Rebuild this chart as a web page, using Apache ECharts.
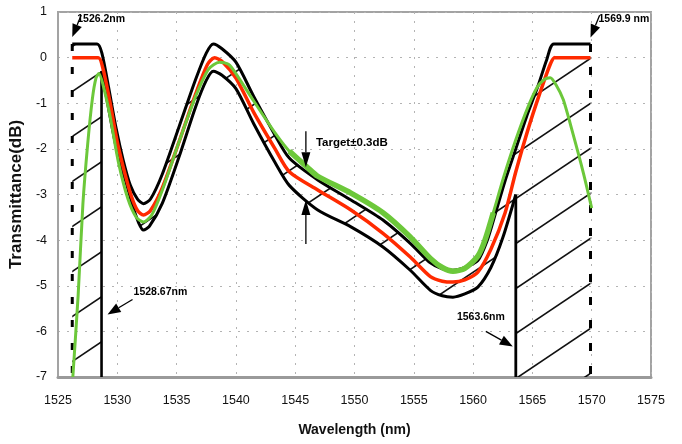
<!DOCTYPE html>
<html><head><meta charset="utf-8">
<script src="https://cdn.jsdelivr.net/npm/echarts@6/dist/echarts.min.js"></script>
<style>html,body{margin:0;padding:0;background:#fff}#c{width:682px;height:444px}</style>
</head><body><div id="c"></div>
<script>
// ---- data (wavelength nm, transmittance dB) ----
const bandStart = 1526.2, bandEnd = 1569.9, lowStart = 1528.67, lowEnd = 1563.6;
const yMin = -7, yMax = 1;
const xTicksMin = 1525, xTicksMax = 1575;

const upperWl = [1526.2, 1528.3, 1528.7, 1529.3, 1529.9, 1530.5, 1531.1, 1531.7, 1532.2, 1532.8, 1533.8, 1535.2, 1536.6, 1537.5, 1538.1, 1538.8, 1540.0, 1541.5, 1543.3, 1544.5, 1546.9, 1549.7, 1552.4, 1554.7, 1556.4, 1557.4, 1558.3, 1559.3, 1560.4, 1561.2, 1561.9, 1562.7, 1563.6, 1564.5, 1565.5, 1566.2, 1566.8, 1569.9];
const upperDb = [0.3, 0.3, 0.1, -0.7, -1.55, -2.25, -2.8, -3.1, -3.2, -3.1, -2.55, -1.52, -0.48, 0.1, 0.3, 0.2, -0.1, -0.85, -1.7, -2.2, -2.68, -3.12, -3.56, -4.07, -4.5, -4.63, -4.66, -4.6, -4.45, -4.0, -3.4, -2.7, -2.0, -1.3, -0.6, -0.05, 0.3, 0.3];

const targetWl = [1526.2, 1528.4, 1528.8, 1529.4, 1530.0, 1530.6, 1531.2, 1531.7, 1532.2, 1532.8, 1533.8, 1535.2, 1536.6, 1537.6, 1538.2, 1538.9, 1540.0, 1541.5, 1543.3, 1544.5, 1546.9, 1549.7, 1552.4, 1554.7, 1556.4, 1557.4, 1558.3, 1559.3, 1560.4, 1561.5, 1562.7, 1563.6, 1564.6, 1565.6, 1566.5, 1566.9, 1569.9];
const targetDb = [0, 0, -0.25, -1.0, -1.85, -2.5, -3.05, -3.35, -3.45, -3.35, -2.85, -1.85, -0.8, -0.15, 0, -0.1, -0.45, -1.2, -2.0, -2.5, -2.9, -3.34, -3.85, -4.37, -4.8, -4.9, -4.92, -4.87, -4.7, -4.2, -3.4, -2.5, -1.6, -0.8, -0.15, 0, 0];

const lowerWl = [1528.67, 1529.0, 1529.6, 1530.1, 1530.7, 1531.3, 1531.8, 1532.2, 1532.7, 1533.8, 1535.2, 1536.6, 1537.5, 1538.1, 1538.8, 1540.0, 1541.5, 1543.3, 1544.5, 1546.9, 1549.7, 1552.4, 1554.7, 1556.4, 1557.4, 1558.3, 1559.3, 1560.4, 1561.5, 1562.5, 1563.6];
const lowerDb = [-0.3, -0.75, -1.58, -2.2, -2.7, -3.25, -3.62, -3.78, -3.7, -3.19, -2.18, -1.08, -0.5, -0.3, -0.38, -0.68, -1.45, -2.3, -2.8, -3.34, -3.71, -4.15, -4.66, -5.1, -5.22, -5.25, -5.18, -5.03, -4.6, -3.95, -3.0];

const measWl = [1526.25, 1526.7, 1527.1, 1527.5, 1527.9, 1528.2, 1528.45, 1528.8, 1529.4, 1530.1, 1530.9, 1531.6, 1532.2, 1532.9, 1533.8, 1535.2, 1536.6, 1537.7, 1538.6, 1539.4, 1540.0, 1541.5, 1543.3, 1544.5, 1546.0, 1546.9, 1549.7, 1552.4, 1554.7, 1556.4, 1557.4, 1558.3, 1559.3, 1560.4, 1561.0, 1561.7, 1562.6, 1563.6, 1564.6, 1565.4, 1566.0, 1566.5, 1567.0, 1567.6, 1568.4, 1569.3, 1570.0];
const measDb = [-7.0, -5.2, -3.2, -1.9, -0.9, -0.45, -0.35, -0.6, -1.3, -2.3, -3.1, -3.5, -3.6, -3.45, -2.9, -1.85, -0.85, -0.25, -0.1, -0.15, -0.35, -0.95, -1.65, -2.05, -2.4, -2.6, -2.97, -3.4, -3.93, -4.4, -4.6, -4.68, -4.62, -4.35, -4.0, -3.4, -2.6, -1.8, -1.1, -0.65, -0.48, -0.44, -0.6, -0.92, -1.65, -2.53, -3.3];
const noisyFrom = 1544.5, noisyTo = 1561.7;

// annotations: label text + the point (nm, dB) each arrow points at
const annotLabels = ['1526.2nm', '1569.9 nm', '1528.67nm', '1563.6nm'];
const annotWl = [bandStart, bandEnd, lowStart, lowEnd];
const annotDb = [0.45, 0.44, -5.63, -6.33];
const tolLabel = 'Target\u00b10.3dB';
const tolWl = 1545.9;
const tolDb = [-2.4, -3.12];

// ---- layout / style (pixels) ----
const annotLayout = [
  {tipDx: 0,  tail: [9, -22],  text: [5, -18],  align: 'left'},
  {tipDx: 0,  tail: [9, -22],  text: [8, -18],  align: 'left'},
  {tipDx: 6,  tail: [25, -15], text: [26, -22], align: 'left'},
  {tipDx: -3, tail: [-27, -15], text: [-8, -29], align: 'right'}
];
const tolLayout = {tails: [[0, -36], [0, 44]], text: [10, -24]};
const FONT = 'Liberation Sans, Arial, sans-serif';

function zip(a, b) { return a.map((v, i) => [v, b[i]]); }

function hatchCanvas() {
  const W = 67, H = 45, c = document.createElement('canvas');
  c.width = W; c.height = H;
  const g = c.getContext('2d');
  g.strokeStyle = '#111'; g.lineWidth = 1.6;
  const c0 = 5, m = H / W;
  for (let k = -2; k <= 2; k++) {
    g.beginPath();
    g.moveTo(-W, c0 + m * W + k * H);
    g.lineTo(2 * W, c0 - 2 * m * W + k * H);
    g.stroke();
  }
  return c;
}
const hatch = hatchCanvas();

function arrow(tip, tail, len, hw) {
  const dx = tip[0] - tail[0], dy = tip[1] - tail[1];
  const L = Math.sqrt(dx * dx + dy * dy) || 1;
  const ux = dx / L, uy = dy / L, nx = -uy, ny = ux;
  const bx = tip[0] - ux * len, by = tip[1] - uy * len;
  return [
    {type: 'line', shape: {x1: tail[0], y1: tail[1], x2: bx, y2: by}, style: {stroke: '#000', lineWidth: 1.3}},
    {type: 'polygon', shape: {points: [tip, [bx + nx * hw, by + ny * hw], [bx - nx * hw, by - ny * hw]]}, style: {fill: '#000'}}
  ];
}

const chart = echarts.init(document.getElementById('c'));
const measNoisy = zip(measWl, measDb).filter(p => p[0] >= noisyFrom && p[0] <= noisyTo);

chart.setOption({
  animation: false,
  grid: {left: 57, right: 31, top: 12, bottom: 67, show: true, borderColor: '#a3a3a3', borderWidth: 2},
  xAxis: {
    type: 'value', min: xTicksMin, max: xTicksMax, interval: 5,
    axisLine: {show: true, onZero: false, lineStyle: {color: '#9a9a9a', width: 3}},
    axisTick: {show: false},
    axisLabel: {margin: 17, fontSize: 12.5, color: '#111', fontFamily: FONT, formatter: v => String(v)},
    splitLine: {show: true, lineStyle: {color: '#b3b3b3', type: [2, 7], width: 1}},
    name: 'Wavelength (nm)', nameLocation: 'middle', nameGap: 46,
    nameTextStyle: {fontWeight: 'bold', fontSize: 14, color: '#111', fontFamily: FONT}
  },
  yAxis: {
    type: 'value', min: yMin, max: yMax, interval: 1,
    axisLine: {show: true, lineStyle: {color: '#a3a3a3', width: 2}},
    axisTick: {show: false},
    axisLabel: {margin: 11, fontSize: 12.5, color: '#111', fontFamily: FONT},
    splitLine: {show: true, lineStyle: {color: '#b3b3b3', type: [2, 7], width: 1}},
    name: 'Transmittance(dB)', nameLocation: 'middle', nameGap: 30,
    nameTextStyle: {fontWeight: 'bold', fontSize: 17, color: '#111', fontFamily: FONT}
  },
  series: [
    {
      type: 'custom', name: 'hatch', z: 1, silent: true,
      data: [[bandStart, 0]],
      renderItem: function (params, api) {
        const pts = [api.coord([bandStart, yMin])];
        for (let i = 0; i < upperWl.length; i++) pts.push(api.coord([upperWl[i], upperDb[i]]));
        pts.push(api.coord([bandEnd, yMin]));
        pts.push(api.coord([lowEnd, yMin]));
        for (let i = lowerWl.length - 1; i >= 0; i--) pts.push(api.coord([lowerWl[i], lowerDb[i]]));
        pts.push(api.coord([lowStart, yMin]));
        return {type: 'polygon', shape: {points: pts}, style: {fill: {image: hatch, repeat: 'repeat'}, stroke: null}};
      }
    },
    {type: 'line', z: 2, silent: true, showSymbol: false, data: [[bandStart, upperDb[0]], [bandStart, yMin]],
      lineStyle: {color: '#000', width: 3, type: [7, 16]}},
    {type: 'line', z: 2, silent: true, showSymbol: false, data: [[bandEnd, upperDb[upperDb.length - 1]], [bandEnd, yMin]],
      lineStyle: {color: '#000', width: 3, type: [8, 15]}},
    {type: 'line', z: 2, silent: true, showSymbol: false, data: [[lowStart, lowerDb[0]], [lowStart, yMin]],
      lineStyle: {color: '#000', width: 2.6}},
    {type: 'line', z: 2, silent: true, showSymbol: false, data: [[lowEnd, lowerDb[lowerDb.length - 1]], [lowEnd, yMin]],
      lineStyle: {color: '#000', width: 2.8}},
    {type: 'line', name: 'upper', z: 3, showSymbol: false, smooth: 0.25, data: zip(upperWl, upperDb),
      lineStyle: {color: '#000', width: 3}},
    {type: 'line', name: 'lower', z: 3, showSymbol: false, smooth: 0.25, data: zip(lowerWl, lowerDb),
      lineStyle: {color: '#000', width: 3}},
    {type: 'line', name: 'target', z: 4, showSymbol: false, smooth: 0.25, data: zip(targetWl, targetDb),
      lineStyle: {color: '#ff2a00', width: 3.5}},
    {type: 'line', name: 'measured', z: 5, showSymbol: false, smooth: 0.25, data: zip(measWl, measDb),
      lineStyle: {color: '#6cc83a', width: 3}},
    {type: 'line', name: 'measuredNoise', z: 5, showSymbol: false, smooth: 0.25, data: measNoisy,
      lineStyle: {color: '#6cc83a', width: 5.5}},
    {
      type: 'custom', name: 'annotations', z: 6, silent: true,
      data: zip(annotWl, annotDb),
      renderItem: function (params, api) {
        const i = params.dataIndex, lay = annotLayout[i];
        const p = api.coord([api.value(0), api.value(1)]);
        const tip = [p[0] + lay.tipDx, p[1]];
        const tail = [tip[0] + lay.tail[0], tip[1] + lay.tail[1]];
        const els = arrow(tip, tail, 13, 5);
        els.push({type: 'text', x: tip[0] + lay.text[0], y: tip[1] + lay.text[1],
          style: {text: annotLabels[i], fill: '#000', fontSize: 10.5, fontWeight: 'bold', fontFamily: FONT,
            align: lay.align, verticalAlign: 'middle'}});
        return {type: 'group', children: els};
      }
    },
    {
      type: 'custom', name: 'tolerance', z: 6, silent: true,
      data: tolDb.map(d => [tolWl, d]),
      renderItem: function (params, api) {
        const i = params.dataIndex;
        const tip = api.coord([api.value(0), api.value(1)]);
        const t = tolLayout.tails[i];
        const els = arrow(tip, [tip[0] + t[0], tip[1] + t[1]], 15, 4.5);
        if (i === 0) {
          els.push({type: 'text', x: tip[0] + tolLayout.text[0], y: tip[1] + tolLayout.text[1],
            style: {text: tolLabel, fill: '#000', fontSize: 11.5, fontWeight: 'bold', fontFamily: FONT,
              align: 'left', verticalAlign: 'middle'}});
        }
        return {type: 'group', children: els};
      }
    }
  ]
});
</script>
</body></html>
